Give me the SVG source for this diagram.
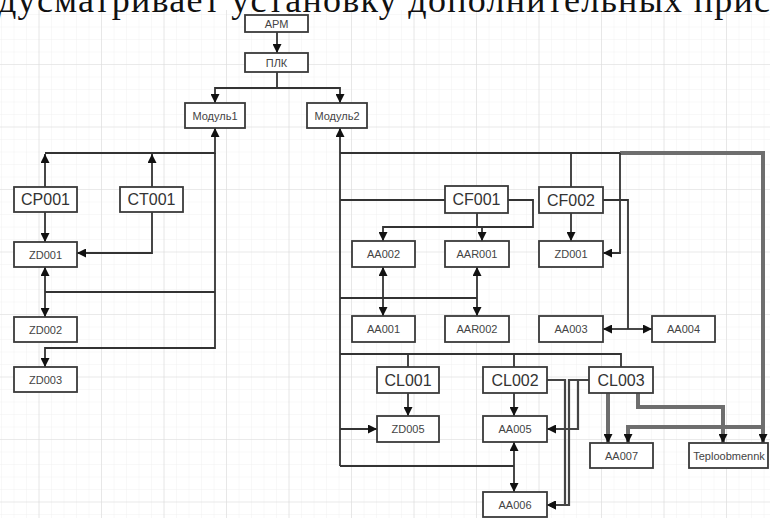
<svg xmlns="http://www.w3.org/2000/svg" width="770" height="518" viewBox="0 0 770 518">
<defs>
<pattern id="minor" x="2" y="2.5" width="12.5" height="12.5" patternUnits="userSpaceOnUse">
<path d="M12.5,0 V12.5 M0,12.5 H12.5" fill="none" stroke="#f1f1f1" stroke-width="1"/>
</pattern>
<pattern id="major" x="-23" y="2.5" width="62.5" height="62.5" patternUnits="userSpaceOnUse">
<path d="M62.5,0 V62.5 M0,62.5 H62.5" fill="none" stroke="#dcdcdc" stroke-width="1.2"/>
</pattern>
<marker id="ah" viewBox="0 0 10 10" refX="10" refY="5" markerWidth="9" markerHeight="9" markerUnits="userSpaceOnUse" orient="auto-start-reverse">
<path d="M0,0 L10,5 L0,10 Z" fill="#111"/>
</marker>
</defs>
<style>
.box{fill:#fff;stroke:#3a3a3a;stroke-width:1.8}
.s{font-family:"Liberation Sans",Arial,sans-serif;font-size:11px;fill:#444;text-anchor:middle;dominant-baseline:central}
.b{font-family:"Liberation Sans",Arial,sans-serif;font-size:16px;fill:#333;text-anchor:middle;dominant-baseline:central}
.c{fill:none;stroke:#333;stroke-width:1.8}
.t{fill:none;stroke:#6e6e6e;stroke-width:4}
.m{fill:none;stroke:#444;stroke-width:2.2}
.e{marker-end:url(#ah)}
.be{marker-start:url(#ah);marker-end:url(#ah)}
</style>
<rect x="0" y="0" width="770" height="518" fill="#fff"/>
<rect x="0" y="10" width="770" height="508" fill="url(#minor)"/>
<rect x="0" y="10" width="770" height="508" fill="url(#major)"/>
<text x="-2" y="12" font-family="Liberation Serif, serif" font-size="36" fill="#111" textLength="772" lengthAdjust="spacing">дусматривает установку дополнительных прис</text>

<g id="connectors">
<path class="c e" d="M277,32 V53"/>
<path class="c e" d="M277,72 V88 H215 V103"/>
<path class="c e" d="M277,88 H340 V103"/>
<path class="c e" d="M45,153 H215 V128"/>
<path class="c e" d="M45,187 V154"/>
<path class="c e" d="M152,187 V154"/>
<path class="c e" d="M45,212 V242"/>
<path class="c e" d="M152,212 V253 H77"/>
<path class="c be" d="M45,267 V317"/>
<path class="c" d="M45,292 H215"/>
<path class="c e" d="M215,153 V348 H45 V367"/>

<path class="c e" d="M340,466 V128"/>
<path class="c" d="M340,153 H622"/>
<path class="t e" d="M620,153 H763 V443"/>
<path class="c" d="M340,200 H445"/>
<path class="c e" d="M508,200 H533 V227 H383 V241"/>
<path class="c e" d="M482,227 V241"/>
<path class="c" d="M477,213 V227"/>
<path class="c be" d="M383,267 V316"/>
<path class="c be" d="M477,267 V316"/>
<path class="c" d="M340,298 H477"/>
<path class="c" d="M571,153 V187"/>
<path class="c e" d="M620,153 V253 H603"/>
<path class="c e" d="M571,213 V241"/>
<path class="c" d="M603,200 H628 V329"/>
<path class="c e" d="M628,329 H603"/>
<path class="c e" d="M628,329 H652"/>

<path class="c" d="M340,354 H621 V367"/>
<path class="c" d="M408,354 V367"/>
<path class="c" d="M514,354 V367"/>
<path class="c e" d="M408,393 V416"/>
<path class="c e" d="M340,429 H377"/>
<path class="c e" d="M514,393 V416"/>
<path class="c" d="M340,466 H514"/>
<path class="c be" d="M514,442 V492"/>
<path class="m e" d="M547,380 H565 V505 H547"/>
<path class="m e" d="M589,380 H569 V505 H547"/>
<path class="m e" d="M589,380 H578 V429 H547"/>
<path class="t e" d="M608,393 V443"/>
<path class="t e" d="M638,393 V407 H723 V443"/>
<path class="t e" d="M763,427 H628 V443"/>
</g>

<g id="arm"><rect class="box" x="245" y="15" width="63" height="17"/><text class="s" x="276.5" y="23.5">АРМ</text></g>
<g id="plk"><rect class="box" x="245" y="53" width="63" height="19"/><text class="s" x="276.5" y="62.5">ПЛК</text></g>
<g id="modul1"><rect class="box" x="185" y="103" width="60" height="25"/><text class="s" x="215" y="115.5">Модуль1</text></g>
<g id="modul2"><rect class="box" x="307" y="103" width="60" height="25"/><text class="s" x="337" y="115.5">Модуль2</text></g>

<g id="cp001"><rect class="box" x="14" y="187" width="63" height="25"/><text class="b" x="45.5" y="199.5">CP001</text></g>
<g id="ct001"><rect class="box" x="120" y="187" width="63" height="25"/><text class="b" x="151.5" y="199.5">CT001</text></g>
<g id="zd001a"><rect class="box" x="14" y="242" width="63" height="25"/><text class="s" x="45.5" y="254.5">ZD001</text></g>
<g id="zd002"><rect class="box" x="14" y="317" width="63" height="25"/><text class="s" x="45.5" y="329.5">ZD002</text></g>
<g id="zd003"><rect class="box" x="14" y="367" width="63" height="25"/><text class="s" x="45.5" y="379.5">ZD003</text></g>

<g id="cf001"><rect class="box" x="445" y="186" width="63" height="27"/><text class="b" x="476.5" y="199.5">CF001</text></g>
<g id="cf002"><rect class="box" x="539" y="187" width="64" height="26"/><text class="b" x="571" y="200">CF002</text></g>
<g id="aa002"><rect class="box" x="352" y="241" width="63" height="26"/><text class="s" x="383.5" y="254">AA002</text></g>
<g id="aar001"><rect class="box" x="445" y="241" width="64" height="26"/><text class="s" x="477" y="254">AAR001</text></g>
<g id="zd001b"><rect class="box" x="539" y="241" width="64" height="26"/><text class="s" x="571" y="254">ZD001</text></g>
<g id="aa001"><rect class="box" x="352" y="316" width="63" height="26"/><text class="s" x="383.5" y="329">AA001</text></g>
<g id="aar002"><rect class="box" x="445" y="316" width="64" height="26"/><text class="s" x="477" y="329">AAR002</text></g>
<g id="aa003"><rect class="box" x="539" y="316" width="64" height="26"/><text class="s" x="571" y="329">AA003</text></g>
<g id="aa004"><rect class="box" x="652" y="316" width="63" height="26"/><text class="s" x="683.5" y="329">AA004</text></g>

<g id="cl001"><rect class="box" x="377" y="367" width="62" height="26"/><text class="b" x="408" y="380">CL001</text></g>
<g id="cl002"><rect class="box" x="483" y="367" width="64" height="26"/><text class="b" x="515" y="380">CL002</text></g>
<g id="cl003"><rect class="box" x="589" y="367" width="64" height="26"/><text class="b" x="621" y="380">CL003</text></g>
<g id="zd005"><rect class="box" x="377" y="416" width="62" height="26"/><text class="s" x="408" y="429">ZD005</text></g>
<g id="aa005"><rect class="box" x="483" y="416" width="64" height="26"/><text class="s" x="515" y="429">AA005</text></g>
<g id="aa006"><rect class="box" x="483" y="492" width="64" height="25"/><text class="s" x="515" y="504.5">AA006</text></g>
<g id="aa007"><rect class="box" x="590" y="443" width="63" height="25"/><text class="s" x="621.5" y="455.5">AA007</text></g>
<g id="teploobmennk"><rect class="box" x="689" y="443" width="79" height="25"/><text class="s" x="729" y="455.5">Teploobmennk</text></g>
</svg>
